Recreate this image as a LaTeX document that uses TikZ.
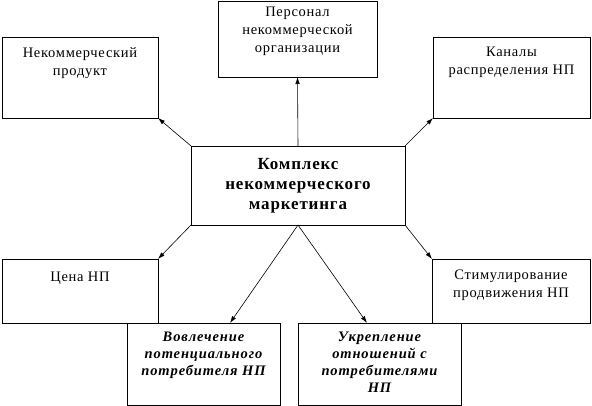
\documentclass[tikz,border=0pt]{standalone}
\usepackage{fontspec}
\setmainfont{Liberation Serif}
\usetikzlibrary{arrows.meta,positioning}
\tikzset{
  >=Latex,
  box/.style={draw=black,line width=.8pt,rectangle,inner sep=0pt,outer sep=0pt},
  txt/.style={align=center,inner sep=0pt,font=\fontsize{14.5}{18}\selectfont\addfontfeature{LetterSpace=5}},
  core/.style={align=center,inner sep=0pt,font=\fontsize{17}{20}\selectfont\bfseries\addfontfeature{LetterSpace=5}},
  aim/.style={align=center,inner sep=0pt,font=\fontsize{14.5}{17}\selectfont\bfseries\itshape\addfontfeature{LetterSpace=6}},
  link/.style={-{Latex[length=7pt,width=4.5pt]},line width=.6pt,draw=black}
}
\begin{document}
\begin{tikzpicture}[x=1pt,y=-1pt]
  \useasboundingbox (0,0) rectangle (592,406);
  % boxes
  \node[box,minimum width=214pt,minimum height=79pt] (mix) at (298,185.5) {};
  \node[box,minimum width=156pt,minimum height=81pt] (prod) at (80,77.5) {};
  \node[box,minimum width=159pt,minimum height=76pt] (staff) at (297.5,39) {};
  \node[box,minimum width=157pt,minimum height=81pt] (chan) at (511.5,77.5) {};
  \node[box,minimum width=156pt,minimum height=64pt] (price) at (80,291) {};
  \node[box,minimum width=158pt,minimum height=64pt] (promo) at (511,291) {};
  \node[box,minimum width=153pt,minimum height=82pt] (involve) at (203.5,364) {};
  \node[box,minimum width=163pt,minimum height=82pt] (bond) at (379.5,364) {};
  % texts
  \node[core] (mixT) at (mix) {Комплекс\\некоммерческого\\маркетинга};
  \node[txt,below=10pt of prod.north] (prodT) {Некоммерческий\\продукт};
  \node[txt,below=6pt of staff.north] (staffT) {Персонал\\некоммерческой\\организации};
  \node[txt,below=10pt of chan.north] (chanT) {Каналы\\распределения НП};
  \node[txt,below=13pt of price.north] (priceT) {Цена НП};
  \node[txt,below=11pt of promo.north] (promoT) {Стимулирование\\продвижения НП};
  \node[aim,below=9pt of involve.north] (involveT) {Вовлечение\\потенциального\\потребителя НП};
  \node[aim,below=9pt of bond.north] (bondT) {Укрепление\\отношений с\\потребителями\\НП};
  % arrows
  \draw[link] (mix.north) -- (staff.south);
  \draw[link] (mix.north west) -- (prod.south east);
  \draw[link] (mix.north east) -- (chan.south west);
  \draw[link] (mix.south west) -- (price.north east);
  \draw[link] (mix.south east) -- (promo.north west);
  \draw[link] (mix.south) -- ([xshift=26.5pt]involve.north);
  \draw[link] (mix.south) -- ([xshift=-12.5pt]bond.north);
\end{tikzpicture}
\end{document}
